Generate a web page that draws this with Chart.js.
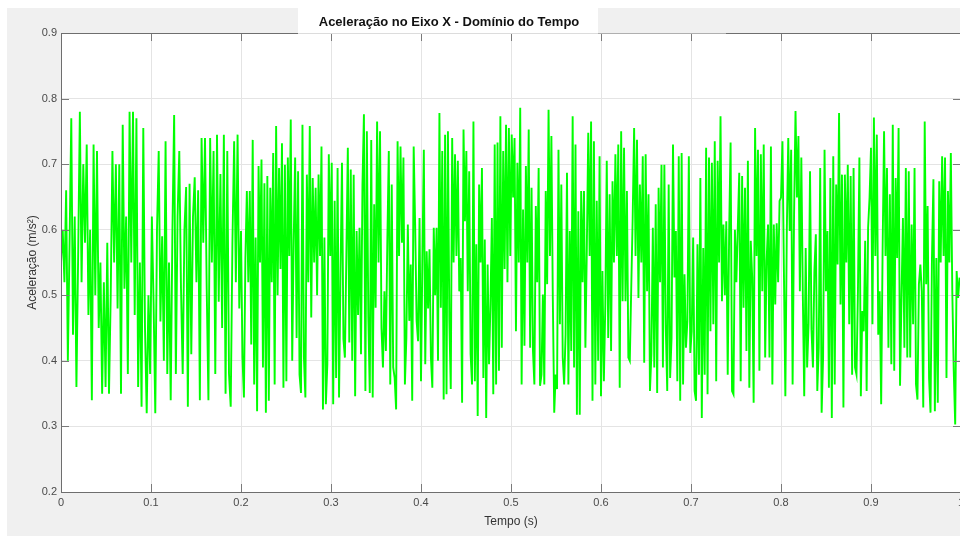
<!DOCTYPE html>
<html>
<head>
<meta charset="utf-8">
<script src="https://cdn.jsdelivr.net/npm/chart.js@4.4.1/dist/chart.umd.min.js"></script>
<style>
html,body{margin:0;padding:0;background:#fff;overflow:hidden;width:960px;height:536px}
#accelChart{position:absolute;left:0;top:0}
</style>
</head>
<body>
<canvas id="accelChart" width="1000" height="536"></canvas>
<script>
// acceleration, one array per 0.2 s stretch
const accel_00_02 = [0.55,0.60,0.52,0.66,0.40,0.58,0.77,0.44,0.62,0.36,0.56,0.78,0.52,0.70,0.58,0.73,0.47,0.60,0.34,0.73,0.50,0.72,0.45,0.55,0.35,0.52,0.36,0.58,0.35,0.50,0.72,0.55,0.70,0.48,0.70,0.35,0.76,0.51,0.62,0.38,0.78,0.55,0.78,0.47,0.77,0.36,0.55,0.33,0.755,0.45,0.32,0.50,0.38,0.62,0.49,0.32,0.60,0.72,0.46,0.59,0.40,0.735,0.38,0.55,0.34,0.60,0.775,0.38,0.62,0.72,0.51,0.38,0.60,0.665,0.33,0.67,0.41,0.62,0.68,0.52,0.66,0.34,0.74,0.58,0.74,0.51,0.34,0.74,0.55,0.72,0.38,0.745,0.49,0.685,0.45,0.745,0.35,0.72,0.38,0.33,0.58,0.735,0.52,0.745,0.48];
const accel_02_04 = [0.598,0.405,0.344,0.557,0.659,0.52,0.659,0.425,0.737,0.364,0.588,0.323,0.697,0.55,0.707,0.390,0.671,0.321,0.682,0.339,0.664,0.52,0.717,0.364,0.758,0.50,0.694,0.54,0.732,0.359,0.699,0.369,0.710,0.56,0.768,0.400,0.583,0.710,0.435,0.689,0.379,0.351,0.760,0.405,0.344,0.684,0.52,0.758,0.466,0.679,0.55,0.664,0.50,0.684,0.56,0.727,0.326,0.588,0.334,0.395,0.715,0.56,0.702,0.334,0.644,0.374,0.694,0.344,0.532,0.702,0.433,0.405,0.562,0.725,0.428,0.692,0.400,0.684,0.346,0.598,0.47,0.603,0.410,0.669,0.776,0.354,0.750,0.466,0.351,0.737,0.344,0.639,0.481,0.765,0.55,0.750,0.450,0.390,0.506,0.415,0.583,0.720,0.364,0.669,0.390,0.374,0.326,0.735,0.56,0.727,0.58,0.710,0.364,0.435,0.608,0.461,0.547,0.339,0.727,0.608,0.461,0.430,0.618];
const accel_04_06 = [0.369,0.557,0.722,0.395,0.567,0.48,0.570,0.405,0.359,0.603,0.50,0.603,0.400,0.778,0.481,0.720,0.341,0.745,0.349,0.750,0.461,0.357,0.740,0.55,0.715,0.56,0.705,0.506,0.557,0.336,0.753,0.613,0.720,0.506,0.689,0.410,0.364,0.765,0.369,0.578,0.316,0.669,0.55,0.694,0.374,0.585,0.313,0.547,0.395,0.486,0.618,0.349,0.730,0.364,0.733,0.385,0.773,0.420,0.720,0.54,0.760,0.52,0.755,0.56,0.745,0.649,0.740,0.445,0.702,0.55,0.786,0.364,0.631,0.423,0.697,0.55,0.753,0.420,0.664,0.415,0.364,0.636,0.52,0.694,0.362,0.379,0.501,0.364,0.659,0.517,0.783,0.56,0.743,0.496,0.321,0.379,0.357,0.722,0.456,0.669,0.405,0.364,0.440,0.687,0.364,0.598,0.415,0.773,0.390,0.730,0.318,0.628,0.318,0.659,0.52,0.659,0.420,0.572,0.748,0.56,0.765,0.339,0.735,0.364,0.644,0.400,0.712];
const accel_06_08 = [0.346,0.537,0.369,0.486,0.705,0.435,0.654,0.415,0.674,0.55,0.715,0.56,0.730,0.359,0.750,0.491,0.725,0.491,0.659,0.405,0.400,0.511,0.618,0.755,0.56,0.737,0.496,0.669,0.55,0.712,0.397,0.715,0.506,0.654,0.354,0.410,0.603,0.390,0.639,0.351,0.664,0.52,0.699,0.390,0.699,0.450,0.354,0.669,0.374,0.435,0.730,0.527,0.598,0.369,0.712,0.339,0.717,0.364,0.532,0.420,0.461,0.712,0.412,0.445,0.588,0.354,0.339,0.578,0.379,0.679,0.313,0.572,0.379,0.725,0.349,0.710,0.445,0.702,0.456,0.735,0.369,0.705,0.55,0.773,0.491,0.608,0.50,0.613,0.379,0.598,0.733,0.354,0.349,0.600,0.52,0.603,0.687,0.369,0.682,0.481,0.664,0.415,0.705,0.359,0.583,0.527,0.336,0.755,0.56,0.722,0.385,0.715,0.506,0.730,0.405,0.552,0.608,0.405,0.727,0.364,0.608,0.486,0.610,0.52,0.644];
const accel_08_10 = [0.649,0.735,0.537,0.346,0.598,0.740,0.598,0.722,0.364,0.623,0.781,0.649,0.743,0.506,0.710,0.506,0.346,0.572,0.390,0.456,0.689,0.448,0.390,0.537,0.593,0.354,0.420,0.694,0.321,0.405,0.722,0.506,0.598,0.359,0.679,0.313,0.712,0.364,0.669,0.547,0.778,0.486,0.684,0.329,0.684,0.55,0.699,0.456,0.682,0.379,0.694,0.390,0.379,0.506,0.710,0.346,0.476,0.445,0.583,0.354,0.603,0.649,0.725,0.456,0.771,0.56,0.745,0.440,0.506,0.334,0.570,0.750,0.56,0.694,0.420,0.654,0.395,0.760,0.385,0.679,0.557,0.755,0.362,0.496,0.618,0.420,0.694,0.405,0.689,0.405,0.608,0.456,0.694,0.364,0.341,0.517,0.547,0.506,0.329,0.765,0.517,0.636,0.374,0.321,0.557,0.677,0.323,0.557,0.336,0.674,0.55,0.712,0.56,0.710,0.374,0.659,0.55,0.717,0.506,0.385,0.303,0.537,0.496,0.527];

const segments = [accel_00_02, accel_02_04, accel_04_06, accel_06_08, accel_08_10];
const segmentLength = 0.2; // seconds

const xTicks = [0,0.1,0.2,0.3,0.4,0.5,0.6,0.7,0.8,0.9,1];
const xTickLabels = ['0','0.1','0.2','0.3','0.4','0.5','0.6','0.7','0.8','0.9','1'];
const yTicks = [0.2,0.3,0.4,0.5,0.6,0.7,0.8,0.9];
const yTickLabels = ['0.2','0.3','0.4','0.5','0.6','0.7','0.8','0.9'];

const chartTitle = 'Aceleração no Eixo X - Domínio do Tempo';
const xTitle = 'Tempo (s)';
const yTitle = 'Aceleração (m/s²)';

const points = [];
segments.forEach((seg, k) => {
  const step = segmentLength / seg.length;
  seg.forEach((v, j) => {
    points.push({x: k * segmentLength + j * step, y: v});
  });
});

const FONT = '"Liberation Sans", Arial, sans-serif';
Chart.defaults.font.family = FONT;

const figurePlugin = {
  id: 'figure',
  beforeDraw(chart){
    const {ctx, chartArea: a} = chart;
    ctx.save();
    ctx.fillStyle = '#ffffff';
    ctx.fillRect(0, 0, chart.width, chart.height);
    ctx.fillStyle = '#f0f0f0';
    ctx.fillRect(7, 8, chart.width - 7, chart.height - 8);
    ctx.fillStyle = '#ffffff';
    ctx.fillRect(a.left, a.top, a.right - a.left, a.bottom - a.top);
    ctx.restore();
  },
  afterDraw(chart){
    const {ctx, chartArea: a} = chart;
    const xs = chart.scales.x;
    const ys = chart.scales.y;
    const tick = 8;

    ctx.save();
    // inward tick marks
    ctx.strokeStyle = '#7a7a7a';
    ctx.lineWidth = 1;
    ctx.beginPath();
    xTicks.forEach(v => {
      const px = Math.round(xs.getPixelForValue(v)) + 0.5;
      ctx.moveTo(px, a.bottom); ctx.lineTo(px, a.bottom - tick);
      ctx.moveTo(px, a.top); ctx.lineTo(px, a.top + tick);
    });
    yTicks.forEach(v => {
      const py = Math.round(ys.getPixelForValue(v)) + 0.5;
      ctx.moveTo(a.left, py); ctx.lineTo(a.left + tick, py);
      ctx.moveTo(a.right, py); ctx.lineTo(a.right - tick, py);
    });
    ctx.stroke();

    // axes box
    ctx.strokeStyle = '#6e6e6e';
    ctx.beginPath();
    ctx.moveTo(a.left + 0.5, a.top); ctx.lineTo(a.left + 0.5, a.bottom + 0.5);
    ctx.lineTo(a.right + 0.5, a.bottom + 0.5); ctx.lineTo(a.right + 0.5, a.top);
    ctx.moveTo(a.left, a.top + 0.5); ctx.lineTo(a.right + 0.5, a.top + 0.5);
    ctx.stroke();

    // title box sits over the top axis line
    ctx.fillStyle = '#f0f0f0';
    ctx.fillRect(298, 8, 428, a.top - 7.5);
    ctx.fillStyle = '#ffffff';
    ctx.fillRect(298, 8, 300, a.top - 8);
    ctx.fillStyle = '#dcdcdc';
    ctx.fillRect(298, a.top, 300, 1);

    ctx.fillStyle = '#111111';
    ctx.font = 'bold 13px ' + FONT;
    ctx.textAlign = 'center';
    ctx.textBaseline = 'alphabetic';
    ctx.fillText(chartTitle, 449, 26);
    ctx.restore();
  }
};

new Chart(document.getElementById('accelChart'), {
  type: 'line',
  data: {
    datasets: [{
      data: points,
      borderColor: '#00ff00',
      borderWidth: 1.9,
      pointRadius: 0,
      tension: 0,
      fill: false
    }]
  },
  options: {
    responsive: false,
    animation: false,
    events: [],
    layout: {padding: {top: 33, right: 39, bottom: 0, left: 0}},
    plugins: {
      legend: {display: false},
      tooltip: {enabled: false},
      title: {display: false}
    },
    scales: {
      x: {
        type: 'linear',
        min: 0,
        max: 1,
        afterBuildTicks: scale => { scale.ticks = xTicks.map(v => ({value: v})); },
        afterFit: scale => { scale.height = 44; },
        ticks: {
          autoSkip: false,
          maxRotation: 0,
          padding: 4,
          color: '#4a4a4a',
          font: {size: 11},
          callback: (v, i) => xTickLabels[i]
        },
        grid: {color: '#e4e4e4', lineWidth: 1, drawTicks: false},
        border: {display: false},
        title: {
          display: true,
          text: xTitle,
          color: '#333333',
          font: {size: 12},
          padding: {top: 0, bottom: 7}
        }
      },
      y: {
        type: 'linear',
        min: 0.2,
        max: 0.9,
        afterBuildTicks: scale => { scale.ticks = yTicks.map(v => ({value: v})); },
        afterFit: scale => { scale.width = 61; },
        ticks: {
          autoSkip: false,
          padding: 4,
          color: '#4a4a4a',
          font: {size: 11},
          callback: (v, i) => yTickLabels[i]
        },
        grid: {color: '#e4e4e4', lineWidth: 1, drawTicks: false},
        border: {display: false},
        title: {
          display: true,
          text: yTitle,
          color: '#333333',
          font: {size: 12},
          padding: {top: 25, bottom: 0}
        }
      }
    }
  },
  plugins: [figurePlugin]
});
</script>
</body>
</html>
